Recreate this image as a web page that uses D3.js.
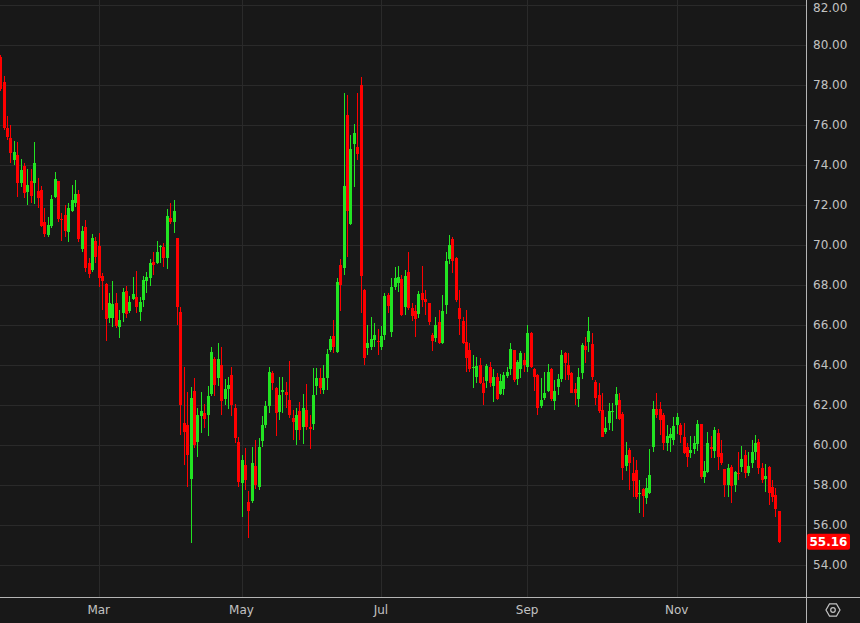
<!DOCTYPE html>
<html>
<head>
<meta charset="utf-8">
<script src="https://cdn.jsdelivr.net/npm/d3@7/dist/d3.min.js"></script>
<style>
  html, body { margin: 0; padding: 0; background: #181818; }
  svg { display: block; }
</style>
</head>
<body>
<div id="chart"></div>
<script>
// ---- DATA (daily candles, index 0..229) ----
const opens = [79.40,78.17,75.83,75.37,74.25,74.50,73.12,73.95,72.67,73.20,73.12,72.70,72.75,71.17,70.50,70.97,72.42,73.20,71.30,71.50,
70.67,71.72,72.08,72.55,69.78,70.88,69.12,68.75,70.20,69.95,68.45,68.05,66.33,66.33,67.08,65.92,66.58,67.70,66.70,67.28,
67.42,66.67,67.25,68.22,68.33,69.17,69.08,69.90,69.92,69.33,71.37,71.17,70.37,66.63,61.08,61.00,58.28,62.70,60.17,61.45,
61.58,61.50,62.55,64.28,63.37,64.00,62.28,62.78,63.50,61.87,60.15,58.12,59.00,57.17,57.22,58.95,57.92,60.22,61.00,61.95,
63.62,62.83,61.67,62.67,62.67,62.25,61.33,60.75,61.70,60.92,61.75,60.92,61.05,62.95,63.37,62.75,63.33,64.75,65.45,64.67,
69.00,68.83,76.50,71.05,75.05,74.88,78.00,67.75,64.83,64.92,65.25,65.20,64.92,65.50,67.50,65.67,67.92,68.08,68.28,66.88,
68.67,66.87,66.72,66.55,67.62,67.28,67.08,65.50,65.33,66.17,65.08,67.00,69.28,70.28,69.37,66.87,66.22,65.17,64.75,63.85,
63.42,64.00,63.12,63.22,63.92,62.97,63.40,62.55,62.78,63.45,63.78,64.75,63.28,63.78,64.25,63.92,65.62,63.78,63.50,61.95,
62.33,62.72,63.78,62.22,62.88,63.28,64.58,64.00,63.62,62.78,62.28,63.62,64.95,65.17,65.05,63.17,62.50,61.75,60.63,61.12,
61.67,62.00,62.25,61.53,58.95,59.75,58.62,58.75,57.55,57.78,57.33,57.58,59.92,61.78,61.78,61.50,60.08,60.33,60.25,61.00,
61.00,60.42,59.92,59.62,59.80,60.05,61.05,58.42,58.67,59.92,59.72,60.58,59.62,58.78,58.00,58.92,58.00,58.60,58.92,59.50,
58.62,59.08,59.67,60.17,58.83,58.30,58.92,57.88,57.50,56.70];
const highs = [79.50,78.45,76.45,76.00,75.20,75.17,74.30,74.08,73.80,73.78,75.15,73.33,72.97,71.87,71.42,72.50,73.65,73.20,71.60,72.00,
72.08,73.00,73.25,72.75,70.95,71.25,69.33,70.55,70.40,70.58,68.58,68.08,67.58,68.22,67.58,66.75,67.83,67.95,67.45,68.38,
68.72,67.42,68.45,68.67,69.28,69.67,70.20,70.00,70.08,71.80,72.12,72.25,70.37,66.92,63.92,62.67,62.92,63.33,61.83,62.63,
62.05,62.95,64.88,64.38,65.12,64.88,63.28,63.42,63.88,62.05,60.38,59.50,59.83,57.70,59.88,60.25,60.33,61.45,62.22,63.92,
63.72,62.88,63.42,63.38,63.17,64.20,61.75,61.83,62.17,62.53,63.03,61.50,63.83,63.83,63.83,64.00,64.78,65.45,66.25,68.33,
69.30,77.62,77.50,75.50,76.05,77.58,78.42,67.78,66.00,66.42,66.08,65.78,65.95,67.58,67.58,68.33,68.92,68.95,68.50,68.75,
69.63,67.08,67.00,67.70,68.95,67.75,67.12,65.58,66.38,66.75,67.50,69.67,70.50,70.42,69.42,67.75,66.42,66.75,65.08,64.50,
64.42,64.33,63.42,64.05,64.17,63.80,63.62,63.55,63.67,63.92,65.12,64.75,64.25,64.72,64.58,66.00,65.67,63.83,63.55,63.33,
63.67,64.05,63.83,63.25,63.55,64.75,64.67,64.58,63.67,63.08,63.83,65.08,65.38,66.42,65.62,63.25,63.08,62.58,61.38,62.08,
62.08,62.92,62.62,61.67,60.17,59.83,59.38,59.25,58.25,57.83,58.33,59.80,62.20,62.58,62.17,61.58,61.00,60.83,61.42,61.58,
61.08,61.08,60.12,60.45,60.45,61.25,61.05,59.20,60.67,60.45,60.92,60.78,60.25,58.78,59.05,59.00,58.72,59.67,59.95,59.75,
59.67,60.25,60.50,60.28,59.12,59.05,58.95,58.25,57.83,56.70];
const lows = [77.70,75.75,75.25,74.10,74.00,72.38,72.92,72.33,72.00,72.08,72.05,71.83,70.92,70.42,70.42,70.87,72.33,71.17,70.20,70.42,
70.13,71.67,71.92,70.13,69.67,68.67,68.33,68.67,69.12,67.92,66.75,65.22,66.08,65.88,65.83,65.33,66.17,66.37,66.58,67.25,
66.58,66.22,66.88,67.58,67.95,68.50,69.05,69.12,68.88,68.80,71.03,70.62,66.00,60.50,59.00,57.92,55.12,59.83,59.42,60.58,
60.83,60.45,62.45,62.45,62.95,61.50,62.00,61.78,61.45,60.12,57.92,56.42,57.75,55.33,57.08,57.78,57.75,59.92,60.83,61.62,
62.75,60.45,61.25,61.58,61.83,61.33,60.25,60.00,60.25,60.05,60.75,59.78,60.75,62.50,62.55,62.53,62.75,64.67,64.58,64.58,
66.72,68.50,69.38,71.00,72.92,74.25,66.58,64.00,64.50,64.75,64.92,64.50,64.75,65.25,66.58,65.42,67.75,67.67,66.45,66.50,
66.75,66.22,65.42,66.33,66.88,66.50,66.00,64.72,65.17,65.05,65.05,66.55,69.05,68.58,67.17,65.50,65.05,63.67,63.67,62.83,
63.08,63.05,62.00,62.83,62.88,62.17,62.25,62.50,62.50,63.33,63.50,63.17,63.00,63.33,63.67,63.67,63.83,62.72,61.50,61.83,
62.25,62.67,62.22,61.75,62.50,63.17,63.25,63.25,62.58,62.00,61.88,63.28,64.08,64.67,63.25,62.00,61.58,60.38,60.55,60.75,
60.72,61.28,61.25,58.25,58.72,57.75,57.42,57.28,56.62,56.38,57.05,57.55,59.67,61.33,60.50,59.75,59.72,59.67,60.00,60.55,
60.08,59.55,58.88,59.33,59.55,59.70,58.28,58.12,58.62,59.33,59.33,58.75,59.00,57.42,57.38,57.12,57.67,58.25,58.67,58.33,
58.45,58.83,59.25,58.55,58.08,57.67,57.00,57.17,56.42,55.12];
const closes = [77.80,75.83,75.38,74.58,74.63,73.12,73.75,72.58,73.00,72.47,74.08,72.33,70.97,70.55,71.00,72.30,73.30,71.30,71.25,70.72,
71.83,72.25,72.55,70.30,70.72,68.87,68.55,70.33,69.40,68.33,68.22,66.28,67.08,67.05,65.95,66.25,67.63,66.53,67.17,67.55,
66.88,67.17,68.25,68.38,69.08,69.00,69.67,69.95,69.33,71.45,71.17,71.70,66.92,62.00,60.67,59.50,62.33,60.00,61.50,61.70,
61.28,62.45,64.67,63.00,64.28,62.22,62.78,63.00,62.00,60.37,58.17,59.25,58.25,56.72,59.08,58.00,59.92,61.00,61.95,63.67,
63.12,61.58,62.50,62.75,62.50,61.50,61.17,61.50,60.75,61.83,60.92,60.78,62.50,63.37,62.83,63.33,64.55,65.28,64.88,68.17,
68.00,72.95,71.72,74.78,75.62,74.55,68.45,64.33,65.08,65.28,65.50,65.15,65.45,67.45,66.95,67.92,68.33,68.38,66.50,68.45,
66.83,66.45,66.28,67.55,67.25,67.15,66.17,65.22,66.00,65.08,66.72,69.20,70.00,69.22,67.25,66.28,65.12,64.33,63.80,63.88,
63.95,63.08,62.62,63.95,63.08,63.42,62.28,63.20,63.50,63.67,64.78,63.25,64.17,64.62,64.00,65.62,63.92,63.42,61.83,62.25,
62.58,63.67,62.28,62.72,63.30,64.50,64.08,63.50,62.62,62.62,63.38,65.00,64.75,65.72,63.38,62.33,61.72,60.42,60.87,61.72,
61.72,62.55,61.28,58.87,59.50,59.08,58.22,57.42,57.60,57.45,57.83,58.50,61.78,61.50,61.25,60.12,60.45,60.55,60.95,61.38,
60.50,59.58,59.38,59.75,60.12,61.05,58.38,58.72,60.12,59.78,60.75,59.42,59.12,58.00,58.83,57.95,58.67,58.58,59.28,58.62,
58.95,59.67,60.08,58.83,58.25,58.45,57.58,57.42,56.78,55.16];

const monthLabels = ["Mar", "May", "Jul", "Sep", "Nov"];
const monthIndex  = [29, 71, 112, 155, 199];
const priceTicks  = [54, 56, 58, 60, 62, 64, 66, 68, 70, 72, 74, 76, 78, 80, 82];
const lastPrice = 55.16;

// ---- LAYOUT ----
const W = 860, H = 623;
const axisX = 806, axisY = 597;
const bg = "#181818", gridC = "#2a2a2a", sepC = "#b4b4b4", textC = "#c2c2c2";
const upC = "#22e422", downC = "#ff0000";
const font = "'DejaVu Sans', sans-serif";

const svg = d3.select("#chart").append("svg").attr("width", W).attr("height", H);
svg.append("rect").attr("width", W).attr("height", H).attr("fill", bg);

const x = d3.scaleLinear().domain([0, 229]).range([0.1, 778.7]);
const y = d3.scaleLinear().domain([54, 82]).range([565, 5]);

// grid
const grid = svg.append("g");
grid.selectAll("line.h").data(priceTicks).join("line")
  .attr("x1", 0).attr("x2", axisX)
  .attr("y1", d => Math.round(y(d)) + 0.5).attr("y2", d => Math.round(y(d)) + 0.5)
  .attr("stroke", gridC).attr("stroke-width", 1);
grid.selectAll("line.v").data(monthIndex).join("line")
  .attr("x1", d => Math.round(x(d)) + 0.5).attr("x2", d => Math.round(x(d)) + 0.5)
  .attr("y1", 0).attr("y2", axisY)
  .attr("stroke", gridC).attr("stroke-width", 1);

// candles
const idx = d3.range(opens.length);
const cg = svg.append("g").attr("shape-rendering", "crispEdges");
cg.selectAll("rect.wick").data(idx).join("rect")
  .attr("x", i => Math.round(x(i)))
  .attr("width", 1)
  .attr("y", i => y(highs[i]))
  .attr("height", i => Math.max(1, y(lows[i]) - y(highs[i])))
  .attr("fill", i => closes[i] >= opens[i] ? upC : downC);
cg.selectAll("rect.body").data(idx).join("rect")
  .attr("x", i => Math.round(x(i)) - 1)
  .attr("width", 3)
  .attr("y", i => y(Math.max(opens[i], closes[i])))
  .attr("height", i => Math.max(1, Math.abs(y(opens[i]) - y(closes[i]))))
  .attr("fill", i => closes[i] >= opens[i] ? upC : downC);

// separators
svg.append("line").attr("x1", axisX + 0.5).attr("x2", axisX + 0.5).attr("y1", 0).attr("y2", H)
  .attr("stroke", sepC).attr("stroke-width", 1);
svg.append("line").attr("x1", 0).attr("x2", W).attr("y1", axisY + 0.5).attr("y2", axisY + 0.5)
  .attr("stroke", sepC).attr("stroke-width", 1);

// price axis labels (top one nudged to stay inside the frame)
svg.append("g").selectAll("text").data(priceTicks).join("text")
  .attr("x", 813).attr("y", d => Math.max(y(d), 7.5)).attr("dy", "0.35em")
  .attr("fill", textC).attr("font-family", font).attr("font-size", 12)
  .text(d => d.toFixed(2));

// last price label
svg.append("rect").attr("x", axisX + 1).attr("y", y(lastPrice) - 8).attr("width", 43).attr("height", 16)
  .attr("rx", 2).attr("fill", downC);
svg.append("text").attr("x", axisX + 22.5).attr("y", y(lastPrice)).attr("dy", "0.36em")
  .attr("text-anchor", "middle").attr("fill", "#ffffff").attr("font-family", font)
  .attr("font-size", 12).attr("font-weight", "bold").text(lastPrice.toFixed(2));

// time axis labels
svg.append("g").selectAll("text").data(monthIndex).join("text")
  .attr("x", d => x(d)).attr("y", 610).attr("dy", "0.35em").attr("text-anchor", "middle")
  .attr("fill", textC).attr("font-family", font).attr("font-size", 12)
  .text((d, k) => monthLabels[k]);

// settings icon
const gx = 833, gy = 610, gr = 7;
const hex = d3.range(6).map(k => [gx + gr * Math.cos(Math.PI / 3 * k), gy + gr * Math.sin(Math.PI / 3 * k)]);
svg.append("path").attr("d", "M" + hex.map(p => p.join(",")).join("L") + "Z")
  .attr("fill", "none").attr("stroke", textC).attr("stroke-width", 1.2);
svg.append("circle").attr("cx", gx).attr("cy", gy).attr("r", 2.3)
  .attr("fill", "none").attr("stroke", textC).attr("stroke-width", 1.2);
</script>
</body>
</html>
